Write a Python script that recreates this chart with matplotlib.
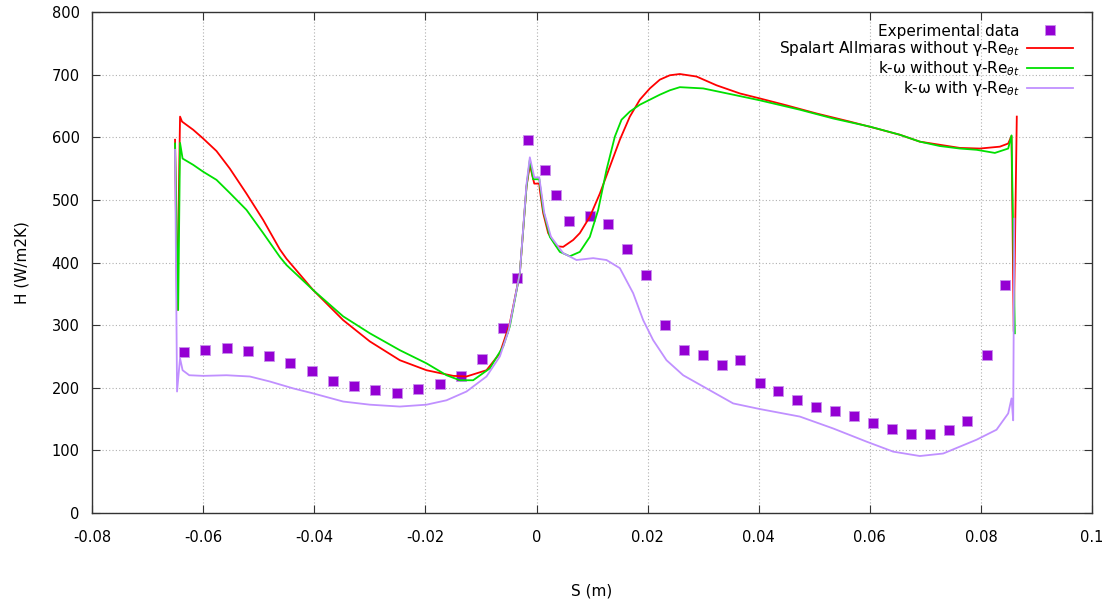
import numpy as np
import matplotlib.pyplot as plt

# --------------------------------------------------------------------------------------------------
# heat transfer coefficient along the blade surface

# experimental points
s_exp = [-0.0634, -0.0597, -0.0557, -0.0519, -0.0481, -0.0444, -0.0404, -0.0366, -0.0328, -0.0291,
         -0.0251, -0.0213, -0.0174, -0.0136, -0.0098, -0.0060, -0.0035, -0.0015, 0.0015, 0.0035,
         0.0059, 0.0096, 0.0129, 0.0163, 0.0197, 0.0231, 0.0266, 0.0300, 0.0334, 0.0366,
         0.0402, 0.0435, 0.0469, 0.0503, 0.0537, 0.0572, 0.0606, 0.0640, 0.0674, 0.0708,
         0.0743, 0.0775, 0.0811, 0.0843]
h_exp = [257, 260, 263, 259, 251, 240, 227, 211, 203, 196,
         192, 198, 206, 219, 246, 295, 375, 596, 548, 508,
         466, 474, 461, 422, 380, 300, 260, 252, 236, 244,
         208, 195, 180, 169, 163, 155, 144, 134, 126, 126,
         133, 147, 252, 364]

# Spalart Allmaras without transition
s_sa = [-0.06506, -0.06470, -0.06416, -0.0638, -0.0618, -0.0600, -0.0576, -0.0552, -0.0522, -0.0492,
        -0.0462, -0.0450, -0.0402, -0.0348, -0.0300, -0.0246, -0.0198, -0.0150, -0.0126, -0.0090,
        -0.0066, -0.0048, -0.0030, -0.0018, -0.0012, -0.0007, -0.0004, 0.0005, 0.0006, 0.0012,
        0.0021, 0.0036, 0.0048, 0.0066, 0.0078, 0.0096, 0.0114, 0.0132, 0.0150, 0.0168,
        0.0186, 0.0204, 0.0222, 0.0240, 0.0258, 0.0288, 0.0324, 0.0366, 0.0402, 0.0450,
        0.0504, 0.0564, 0.0612, 0.0654, 0.0690, 0.0726, 0.0762, 0.0798, 0.0834, 0.0849,
        0.0855, 0.0859, 0.08645]
h_sa = [596, 324, 633, 625, 612, 598, 578, 550, 510, 468,
        421, 406, 356, 308, 274, 244, 228, 219, 218, 228,
        255, 303, 383, 521, 556, 537, 526, 526, 516, 479,
        447, 426, 425, 436, 447, 473, 510, 553, 596, 633,
        660, 678, 692, 699, 701, 697, 683, 670, 662, 651,
        638, 625, 614, 604, 593, 588, 583, 582, 585, 590,
        602, 290, 633]

# k-omega without transition
s_kw = [-0.06506, -0.06450, -0.06416, -0.0637, -0.0618, -0.0600, -0.0576, -0.0552, -0.0522, -0.0492,
        -0.0462, -0.0450, -0.0402, -0.0348, -0.0300, -0.0246, -0.0198, -0.0162, -0.0138, -0.0114,
        -0.0084, -0.0060, -0.0048, -0.0030, -0.0018, -0.0012, -0.0006, 0.0005, 0.0012, 0.0024,
        0.0042, 0.0060, 0.0078, 0.0096, 0.0111, 0.0126, 0.0141, 0.0153, 0.0168, 0.0186,
        0.0204, 0.0222, 0.0240, 0.0258, 0.0300, 0.0354, 0.0402, 0.0474, 0.0534, 0.0600,
        0.0654, 0.0690, 0.0726, 0.0762, 0.0792, 0.0825, 0.0849, 0.0855, 0.0861]
h_kw = [590, 324, 591, 566, 556, 545, 532, 511, 484, 447,
        409, 396, 356, 314, 287, 260, 239, 220, 212, 212,
        231, 266, 298, 383, 521, 564, 533, 533, 484, 441,
        417, 410, 417, 441, 484, 548, 601, 628, 641, 652,
        660, 668, 675, 680, 678, 668, 659, 644, 630, 617,
        604, 593, 586, 582, 580, 575, 582, 603, 287]

# k-omega with gamma-Re_theta transition
s_kwt = [-0.06506, -0.06470, -0.06416, -0.0637, -0.0625, -0.0600, -0.0558, -0.0516, -0.0480, -0.0438,
         -0.0402, -0.0348, -0.0300, -0.0246, -0.0198, -0.0162, -0.0126, -0.0090, -0.0066, -0.0050,
         -0.0030, -0.0018, -0.0012, -0.0004, 0.0005, 0.0014, 0.0026, 0.0048, 0.0072, 0.0102,
         0.0126, 0.0150, 0.0174, 0.0192, 0.0210, 0.0234, 0.0264, 0.0306, 0.0354, 0.0402,
         0.0474, 0.0534, 0.0594, 0.0642, 0.0690, 0.0732, 0.0762, 0.0792, 0.0828, 0.0849,
         0.0855, 0.0858, 0.0860]
h_kwt = [580, 194, 247, 228, 220, 219, 220, 218, 210, 199,
         191, 178, 173, 170, 173, 180, 194, 218, 250, 292,
         383, 525, 568, 536, 536, 479, 441, 415, 404, 407,
         404, 391, 351, 308, 276, 244, 220, 199, 175, 166,
         154, 135, 114, 98, 91, 95, 106, 117, 133, 159,
         183, 148, 470]

# --------------------------------------------------------------------------------------------------

fig = plt.figure(figsize=(11.13, 6.01), dpi=100)
ax = fig.add_axes([0.0827, 0.1464, 0.8985, 0.8336])

ax.plot(s_exp, h_exp, ls='none', marker='s', ms=7, mfc='#9400d3', mec='#c890ec', mew=0.6,
        label='Experimental data')
ax.plot(s_sa, h_sa, c='#ff0000', lw=1.3, label=r'Spalart Allmaras without γ-Re$_{\theta t}$')
ax.plot(s_kw, h_kw, c='#00e000', lw=1.3, label=r'k-ω without γ-Re$_{\theta t}$')
ax.plot(s_kwt, h_kwt, c='#c090ff', lw=1.3, label=r'k-ω with γ-Re$_{\theta t}$')

ax.set_xlim(-0.08, 0.1)
ax.set_ylim(0, 800)
ax.set_xticks(np.arange(-0.08, 0.1001, 0.02))
ax.set_xticklabels(['-0.08', '-0.06', '-0.04', '-0.02', '0', '0.02', '0.04', '0.06', '0.08', '0.1'])
ax.set_yticks(np.arange(0, 801, 100))

ax.grid(True, color='#b0b0b0', ls=(0, (1, 2)), lw=0.8)
ax.set_axisbelow(True)

for axis in ['top', 'bottom', 'left', 'right']:
    ax.spines[axis].set_linewidth(1.0)
    ax.spines[axis].set_color('#333333')
ax.tick_params(which='both', direction='in', top=True, right=True, length=6, width=0.8,
               labelsize=10.5, colors='#333333', labelcolor='black')
ax.tick_params(axis='x', pad=12)
ax.tick_params(axis='y', pad=9)

ax.set_xlabel('S (m)', fontsize=11, labelpad=28)
ax.set_ylabel('H (W/m2K)', fontsize=11, labelpad=16)

ax.legend(loc='upper right', bbox_to_anchor=(0.99, 0.995), markerfirst=False, frameon=False,
          fontsize=11, handlelength=3.0, handletextpad=0.5, labelspacing=0.05, borderaxespad=0.2)

plt.savefig('out.png', dpi=100)
plt.close()
